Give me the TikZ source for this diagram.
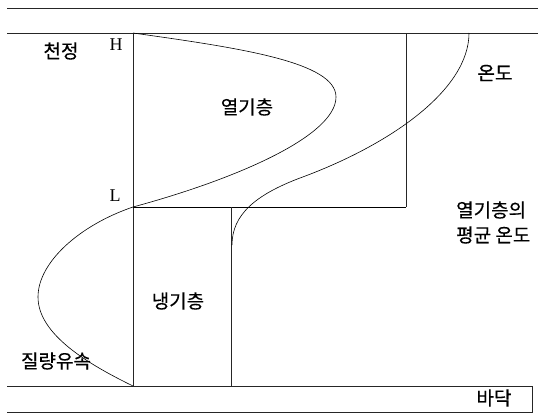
\documentclass[tikz,border=0pt]{standalone}
\usepackage{fontspec}
\setmainfont{Liberation Serif}
\newfontfamily\kr[FakeBold=0.4]{Noto Sans CJK KR}
\begin{document}
\begin{tikzpicture}[x=1pt,y=-1pt,
  ln/.style={line width=0.6pt,black!85},
  crv/.style={line width=0.6pt,black},
  krlbl/.style={font=\kr\fontsize{19}{23}\selectfont,inner sep=0pt},
  hl/.style={font=\fontsize{18}{21}\selectfont,inner sep=0pt}]
\useasboundingbox (0,0) rectangle (538,413);
% named points
\coordinate (H) at (133,33);
\coordinate (L) at (133,207);
\coordinate (B) at (133,386);
\coordinate (HR) at (406,33);
\coordinate (LR) at (406,207);
\coordinate (C1) at (231,207);
\coordinate (C2) at (231,386);
% slabs
\draw[ln] (7,8) -- (538,8);
\draw[ln] (7,33) -- (538,33);
\draw[ln] (7,386) -- (532,386) -- (532,412) -- (7,412);
% axis and mean temperature lines
\draw[ln] (H) -- (B);
\draw[line width=1pt] (L) -- (LR);
\draw[ln] (LR) -- (HR);
\draw[ln] (C1) -- (C2);
% mass flux curve
\draw[crv] (H) .. controls (240,48) and (336,62) .. (336,97)
  .. controls (336,135) and (240,178) .. (L)
  .. controls (80,225) and (38,262) .. (38,297)
  .. controls (38,335) and (90,365) .. (B);
% temperature curve
\draw[crv] (232,245) .. controls (232,215) and (255,195) .. (300,178)
  .. controls (390,145) and (469,90) .. (469,33);
% labels
\node[hl] (lH) at (116,45) {H};
\node[hl] (lL) at (115,196) {L};
\node[krlbl] (t1) at (61,51) {천정};
\node[krlbl] (t2) at (495,73) {온도};
\node[krlbl] (t3) at (247,107) {열기층};
\node[krlbl,anchor=west] (t4) at (456,210) {열기층의};
\node[krlbl,anchor=west] (t5) at (456,235) {평균 온도};
\node[krlbl] (t6) at (178,301) {냉기층};
\node[krlbl] (t7) at (56,361) {질량유속};
\node[krlbl] (t8) at (494,398) {바닥};
\end{tikzpicture}
\end{document}
